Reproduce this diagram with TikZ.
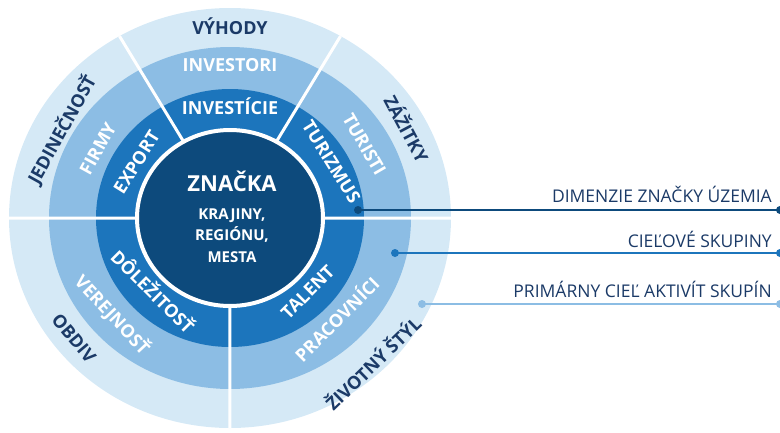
\documentclass[tikz,border=0pt]{standalone}
\usepackage{fontspec}
\setmainfont{Open Sans}
\usetikzlibrary{positioning}
\definecolor{ringlight}{HTML}{D5E9F6}
\definecolor{ringmid}{HTML}{8CBDE4}
\definecolor{ringdark}{HTML}{1C75BC}
\definecolor{brandnavy}{HTML}{0D4A7C}
\definecolor{brandink}{HTML}{1B3A67}

\begin{document}
\begin{tikzpicture}[x=1pt, y=1pt,
  aim/.style={font=\bfseries\fontsize{18}{21}\selectfont, text=brandink,
    inner sep=0pt, text height=12.5pt, text depth=0pt},
  grp/.style={aim, text=white},
  dim/.style={aim, text=white},
  divider/.style={white, line width=3pt},
  dot/.style={circle, inner sep=0pt, minimum size=8pt},
  lead/.style={line width=2.5pt},
  lbl/.style={font=\fontsize{17.5}{20}\selectfont, text=brandink,
    inner sep=0pt, text depth=0pt}]
\useasboundingbox (-230,-214) rectangle (550,218);
% rings
\fill[ringlight] (0,0) ellipse[x radius=221, y radius=210];
\fill[ringmid] (0,0) ellipse[x radius=181, y radius=171];
\fill[ringdark] (0,0) ellipse[x radius=134, y radius=129];
\draw[divider] (0,0) -- (0:221pt and 210pt) (0,0) -- (60:221pt and 210pt)
  (0,0) -- (120:221pt and 210pt) (0,0) -- (180:221pt and 210pt)
  (0,0) -- (270:221pt and 210pt);
\fill[brandnavy, draw=white, line width=4pt] (0,0) ellipse[x radius=93, y radius=88];
% core
\node[font=\bfseries\fontsize{22}{26}\selectfont, text=white, inner sep=0pt,
  anchor=base] (brand) at (2,27) {ZNAČKA};
\node[font=\bfseries\fontsize{15}{21.5}\selectfont, text=white, align=center,
  inner sep=0pt, below=17pt of brand] (brandsub) {KRAJINY,\\ REGIÓNU,\\ MESTA};
% outer ring
\node[aim] (vyhody) at (90:200pt and 190pt) {VÝHODY};
\node[aim, rotate=61] (jedin) at (151:192pt and 182pt) {JEDINEČNOSŤ};
\node[aim, rotate=-62] (zazitky) at (28:199pt and 189pt) {ZÁŽITKY};
\node[aim, rotate=-50] (obdiv) at (219:201pt and 191pt) {OBDIV};
\node[aim, rotate=44] (styl) at (313:211pt and 200pt) {ŽIVOTNÝ ŠTÝL};
% middle ring
\node[grp] (investori) at (90:161pt and 153pt) {INVESTORI};
\node[grp, rotate=61] (firmy) at (151:151pt and 143pt) {FIRMY};
\node[grp, rotate=-60] (turisti) at (30:155pt and 147pt) {TURISTI};
\node[grp, rotate=-47] (verejnost) at (221:156pt and 148pt) {VEREJNOSŤ};
\node[grp, rotate=45] (pracovnici) at (315:152pt and 144pt) {PRACOVNÍCI};
% inner ring
\node[dim] (investicie) at (90:114pt and 110pt) {INVESTÍCIE};
\node[dim, rotate=58] (export) at (148:110pt and 105pt) {EXPORT};
\node[dim, rotate=-58] (turizmus) at (30:117pt and 112pt) {TURIZMUS};
\node[dim, rotate=-45] (dolezitost) at (225:110pt and 105pt) {DÔLEŽITOSŤ};
\node[dim, rotate=45] (talent) at (315:110pt and 105pt) {TALENT};
% leaders
\node[dot, fill=brandnavy] (d1) at (128,8) {};
\node[dot, fill=brandnavy] (e1) at (550,8) {};
\node[dot, fill=ringdark] (d2) at (165,-35) {};
\node[dot, fill=ringdark] (e2) at (550,-35) {};
\node[dot, fill=ringmid] (d3) at (192,-86) {};
\node[dot, fill=ringmid] (e3) at (550,-86) {};
\draw[lead, brandnavy] (d1.center) -- (e1.center);
\draw[lead, ringdark] (d2.center) -- (e2.center);
\draw[lead, ringmid] (d3.center) -- (e3.center);
\node[lbl, above left=7pt and 8pt of e1.center] (dimenzie) {DIMENZIE ZNAČKY ÚZEMIA};
\node[lbl, above left=5pt and 8pt of e2.center] (skupiny) {CIEĽOVÉ SKUPINY};
\node[lbl, above left=6pt and 8pt of e3.center] (primarny) {PRIMÁRNY CIEĽ AKTIVÍT SKUPÍN};
\end{tikzpicture}
\end{document}
